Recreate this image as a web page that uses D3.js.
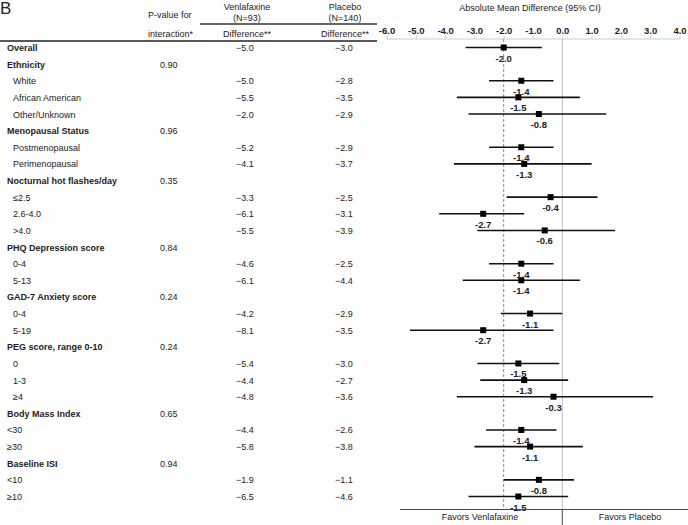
<!DOCTYPE html>
<html><head><meta charset="utf-8">
<script src="https://cdn.jsdelivr.net/npm/d3@7"></script>
<style>
body{margin:0;background:#fff;}
text{font-family:"Liberation Sans",Arial,sans-serif;fill:#222;}
</style></head><body>
<svg id="c" width="688" height="525"></svg>
<script>
const rowLabels = ["Overall","Ethnicity","White","African American","Other/Unknown","Menopausal Status","Postmenopausal","Perimenopausal","Nocturnal hot flashes/day","≤2.5","2.6-4.0",">4.0","PHQ Depression score","0-4","5-13","GAD-7 Anxiety score","0-4","5-19","PEG score, range 0-10","0","1-3","≥4","Body Mass Index","<30","≥30","Baseline ISI","<10","≥10"];
const isGroup = [1,1,0,0,0,1,0,0,1,0,0,0,1,0,0,1,0,0,1,0,0,0,1,0,0,1,0,0];
const flatGroups = ["Body Mass Index","Baseline ISI"];
const pValues = [null,"0.90",null,null,null,"0.96",null,null,"0.35",null,null,null,"0.84",null,null,"0.24",null,null,"0.24",null,null,null,"0.65",null,null,"0.94",null,null];
const venlaDiff = [-5.0,null,-5.0,-5.5,-2.0,null,-5.2,-4.1,null,-3.3,-6.1,-5.5,null,-4.6,-6.1,null,-4.2,-8.1,null,-5.4,-4.4,-4.8,null,-4.4,-5.8,null,-1.9,-6.5];
const placeboDiff = [-3.0,null,-2.8,-3.5,-2.9,null,-2.9,-3.7,null,-2.5,-3.1,-3.9,null,-2.5,-4.4,null,-2.9,-3.5,null,-3.0,-2.7,-3.6,null,-2.6,-3.8,null,-1.1,-4.6];
const estimate = [-2.0,null,-1.4,-1.5,-0.8,null,-1.4,-1.3,null,-0.4,-2.7,-0.6,null,-1.4,-1.4,null,-1.1,-2.7,null,-1.5,-1.3,-0.3,null,-1.4,-1.1,null,-0.8,-1.5];
const ciLow = [-3.3,null,-2.5,-3.6,-3.2,null,-2.5,-3.7,null,-1.9,-4.2,-2.9,null,-2.5,-3.4,null,-2.1,-5.2,null,-2.9,-2.8,-3.6,null,-2.6,-3.0,null,-2.0,-3.2];
const ciHigh = [-0.7,null,-0.3,0.6,1.5,null,-0.3,1.0,null,1.2,-1.3,1.8,null,-0.3,0.6,null,0.0,-0.3,null,-0.1,0.2,3.1,null,-0.2,0.7,null,0.4,0.2];
const axisTicks = [-6,-5,-4,-3,-2,-1,0,1,2,3,4];
const refLine = -2.0;

const svg = d3.select("#c");
const idx = d3.range(rowLabels.length);
const y = d3.scalePoint().domain(idx).range([47.5, 496.5]);
const x = d3.scaleLinear().domain([-6,4]).range([386.5, 679.5]);
const fs = 9;

// panel letter
svg.append("text").attr("x",0).attr("y",14).style("font-size","17px").text("B");

// header
const hdr = svg.append("g").style("font-size", fs+"px");
hdr.append("text").attr("x",148).attr("y",18).text("P-value for");
hdr.append("text").attr("x",148).attr("y",37).text("interaction*");
const cols = [{cx:247,t1:"Venlafaxine",t2:"(N=93)"},{cx:345,t1:"Placebo",t2:"(N=140)"}];
cols.forEach(c=>{
  hdr.append("text").attr("x",c.cx).attr("y",10).attr("text-anchor","middle").text(c.t1);
  hdr.append("text").attr("x",c.cx).attr("y",21).attr("text-anchor","middle").text(c.t2);
  hdr.append("text").attr("x",c.cx).attr("y",37).attr("text-anchor","middle").text("Difference**");
});
svg.append("line").attr("x1",200).attr("x2",377).attr("y1",24).attr("y2",24).attr("stroke","#333").attr("stroke-width",1.3);
svg.append("line").attr("x1",0).attr("x2",377).attr("y1",41).attr("y2",41).attr("stroke","#222").attr("stroke-width",1.5);

svg.append("text").attr("x",x(-1.1)).attr("y",11).attr("text-anchor","middle").style("font-size",fs+"px").text("Absolute Mean Difference (95% CI)");

// axis
const ax = svg.append("g").attr("transform","translate(0,38.5)")
  .call(d3.axisTop(x).tickValues(axisTicks).tickFormat(d=>d.toFixed(1)).tickSize(3).tickSizeOuter(0).tickPadding(2));
ax.select(".domain").attr("stroke","#ccc");
ax.selectAll(".tick line").attr("stroke","#ccc");
ax.selectAll(".tick text").style("font-size","9.5px").style("font-weight","bold").attr("fill","#222").style("font-family","'Liberation Sans',Arial,sans-serif");

// reference lines
svg.append("line").attr("x1",x(0)).attr("x2",x(0)).attr("y1",39).attr("y2",509).attr("stroke","#bbb").attr("stroke-width",1);
svg.append("line").attr("x1",x(refLine)).attr("x2",x(refLine)).attr("y1",39).attr("y2",509).attr("stroke","#888").attr("stroke-width",1).attr("stroke-dasharray","3,2");

// table rows
const rowsG = svg.append("g").style("font-size",fs+"px");
let curGroup = null;
idx.forEach(i=>{
  if(isGroup[i]) curGroup = rowLabels[i];
  const indent = isGroup[i] ? 7 : (flatGroups.includes(curGroup) ? 7 : 13);
  rowsG.append("text").attr("x",indent).attr("y",y(i)+3.5)
    .style("font-weight", isGroup[i] ? "bold" : "normal").attr("fill", isGroup[i] ? "#111" : "#333")
    .text(rowLabels[i]);
  if(pValues[i]) rowsG.append("text").attr("x",160).attr("y",y(i)+3.5).attr("fill","#333").text(pValues[i]);
  const fmt = v => (v<0?"\u2212":"")+Math.abs(v).toFixed(1);
  if(venlaDiff[i]!==null) rowsG.append("text").attr("x",245).attr("y",y(i)+3.5).attr("text-anchor","middle").attr("fill","#333").text(fmt(venlaDiff[i]));
  if(placeboDiff[i]!==null) rowsG.append("text").attr("x",344).attr("y",y(i)+3.5).attr("text-anchor","middle").attr("fill","#333").text(fmt(placeboDiff[i]));
});

// forest marks
const pts = idx.filter(i=>estimate[i]!==null);
const fg = svg.append("g");
fg.selectAll("line.ci").data(pts).join("line").attr("class","ci")
  .attr("x1",i=>x(ciLow[i])).attr("x2",i=>x(ciHigh[i])).attr("y1",i=>y(i)).attr("y2",i=>y(i))
  .attr("stroke","#111").attr("stroke-width",1.6);
fg.selectAll("rect.pt").data(pts).join("rect").attr("class","pt")
  .attr("x",i=>x(estimate[i])-3).attr("y",i=>y(i)-3).attr("width",6).attr("height",6).attr("fill","#000");
fg.selectAll("text.lb").data(pts).join("text").attr("class","lb")
  .attr("x",i=>x(estimate[i])).attr("y",i=>y(i)+14).attr("text-anchor","middle")
  .style("font-size","9.5px").style("font-weight","bold").text(i=>estimate[i].toFixed(1));

// favors footer
svg.append("line").attr("x1",400).attr("x2",688).attr("y1",509.5).attr("y2",509.5).attr("stroke","#444").attr("stroke-width",1);
svg.append("line").attr("x1",x(0)).attr("x2",x(0)).attr("y1",509.5).attr("y2",525).attr("stroke","#444").attr("stroke-width",1);
svg.append("text").attr("x",480).attr("y",520).attr("text-anchor","middle").style("font-size",fs+"px").text("Favors Venlafaxine");
svg.append("text").attr("x",630).attr("y",520).attr("text-anchor","middle").style("font-size",fs+"px").text("Favors Placebo");
</script></body></html>
